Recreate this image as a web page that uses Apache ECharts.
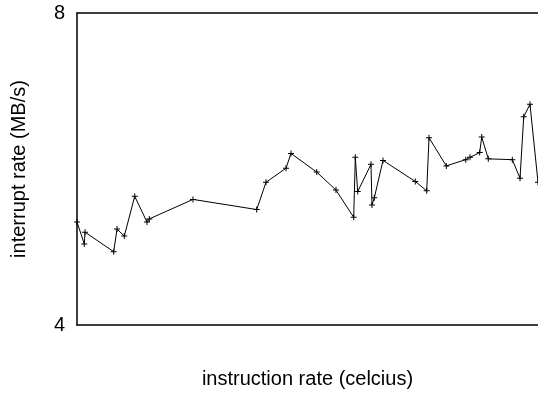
<!DOCTYPE html>
<html>
<head>
<meta charset="utf-8">
<script src="https://cdn.jsdelivr.net/npm/echarts@6/dist/echarts.min.js"></script>
<style>html,body{margin:0;padding:0;background:#fff}#c{width:538px;height:394px}</style>
</head>
<body>
<div id="c"></div>
<script>
const xValues = [0, 1.58, 1.74, 7.96, 8.68, 10.26, 12.52, 15.18, 15.68, 25.16, 38.98, 41.0, 45.34, 46.42, 52.0, 56.18, 60.02, 60.37, 60.89, 63.77, 63.99, 64.49, 66.38, 73.38, 75.86, 76.36, 80.11, 84.32, 85.25, 87.35, 87.79, 89.22, 94.43, 96.10, 96.90, 98.26, 100];
const yValues = [5.32, 5.04, 5.19, 4.94, 5.23, 5.14, 5.65, 5.32, 5.36, 5.61, 5.48, 5.83, 6.01, 6.20, 5.96, 5.73, 5.38, 6.15, 5.71, 6.06, 5.54, 5.63, 6.11, 5.84, 5.72, 6.40, 6.04, 6.12, 6.15, 6.21, 6.41, 6.13, 6.12, 5.88, 6.67, 6.83, 5.83];
const yTicks = [4, 8];
const xName = 'instruction rate (celcius)';
const yName = 'interrupt rate (MB/s)';

const data = xValues.map((x, i) => [x, yValues[i]]);
const font = 'Liberation Sans, Arial, Helvetica, sans-serif';
const chart = echarts.init(document.getElementById('c'), null, {renderer: 'canvas'});
chart.setOption({
  animation: false,
  grid: {left: 77, right: 0, top: 13, bottom: 66, containLabel: false},
  xAxis: [{
    type: 'value', min: 0, max: 100, position: 'bottom',
    name: xName, nameLocation: 'middle', nameGap: 44,
    nameTextStyle: {color: '#000', fontSize: 20, fontFamily: font},
    axisLine: {show: true, lineStyle: {color: '#000', width: 1.5}},
    axisTick: {show: false}, axisLabel: {show: false}, splitLine: {show: false}
  }, {
    type: 'value', min: 0, max: 100, position: 'top',
    axisLine: {show: true, lineStyle: {color: '#000', width: 1.5}},
    axisTick: {show: false}, axisLabel: {show: false}, splitLine: {show: false}
  }],
  yAxis: {
    type: 'value', min: yTicks[0], max: yTicks[1], interval: yTicks[1] - yTicks[0],
    name: yName, nameLocation: 'middle', nameGap: 48,
    nameTextStyle: {color: '#000', fontSize: 20, fontFamily: font},
    axisLine: {show: true, lineStyle: {color: '#000', width: 1.5}},
    axisTick: {show: false},
    axisLabel: {color: '#000', fontSize: 20, fontFamily: font, margin: 12},
    splitLine: {show: false}
  },
  series: [{
    type: 'line', data: data, xAxisIndex: 0,
    symbol: 'path://M-0.5,-3H0.5V-0.5H3V0.5H0.5V3H-0.5V0.5H-3V-0.5H-0.5Z',
    symbolSize: 6, showAllSymbol: true,
    lineStyle: {color: '#000', width: 1},
    itemStyle: {color: '#000', borderWidth: 0},
    clip: false
  }]
});
</script>
</body>
</html>
